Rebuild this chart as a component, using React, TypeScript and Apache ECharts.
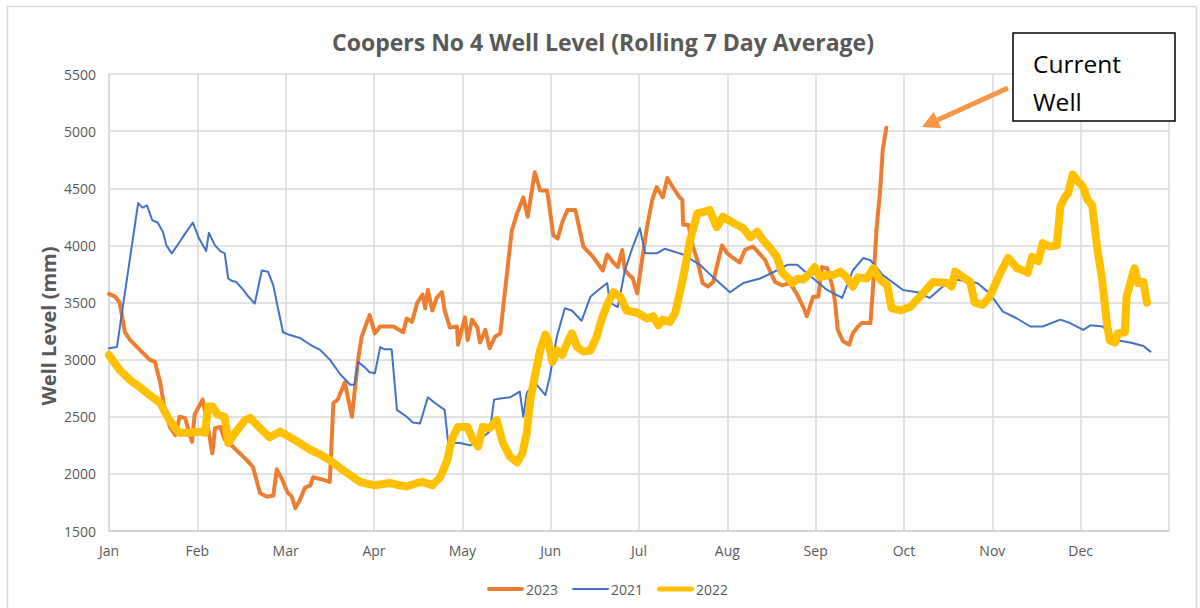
import React, { useEffect, useRef } from "react";
import * as echarts from "echarts";

// x values are positions in months from 1 Jan (0 = Jan, 1 = Feb, ...)
const monthLabels = ["Jan", "Feb", "Mar", "Apr", "May", "Jun", "Jul", "Aug", "Sep", "Oct", "Nov", "Dec"];
const yTicks = { min: 1500, max: 5500, step: 500 };

const data2023: [number, number][] = [
  [0, 3575], [0.07, 3550], [0.12, 3500], [0.18, 3240], [0.24, 3170], [0.35, 3085], [0.46, 3000], [0.52, 2980],
  [0.58, 2800], [0.63, 2560], [0.69, 2410], [0.75, 2340], [0.8, 2500], [0.86, 2490], [0.94, 2280], [0.97, 2520],
  [1.06, 2650], [1.1, 2500], [1.17, 2180], [1.2, 2400], [1.26, 2410], [1.31, 2300], [1.4, 2240], [1.56, 2120],
  [1.63, 2060], [1.71, 1830], [1.79, 1800], [1.86, 1810], [1.9, 2040], [1.96, 1950], [2.02, 1840], [2.07, 1800],
  [2.11, 1700], [2.16, 1770], [2.22, 1880], [2.28, 1900], [2.31, 1970], [2.42, 1950], [2.5, 1930], [2.54, 2620],
  [2.59, 2650], [2.67, 2800], [2.75, 2500], [2.82, 3000], [2.86, 3200], [2.95, 3390], [3.01, 3230], [3.07, 3290],
  [3.18, 3290], [3.22, 3290], [3.33, 3240], [3.37, 3360], [3.43, 3330], [3.49, 3500], [3.55, 3570], [3.58, 3450],
  [3.61, 3610], [3.66, 3430], [3.71, 3540], [3.77, 3590], [3.8, 3430], [3.86, 3280], [3.94, 3290], [3.95, 3130],
  [4.03, 3370], [4.06, 3170], [4.11, 3350], [4.17, 3280], [4.2, 3150], [4.26, 3260], [4.31, 3100], [4.37, 3200],
  [4.43, 3230], [4.48, 3580], [4.56, 4130], [4.62, 4280], [4.69, 4420], [4.74, 4250], [4.82, 4640], [4.88, 4480],
  [4.96, 4480], [5.03, 4090], [5.08, 4060], [5.13, 4200], [5.19, 4310], [5.28, 4310], [5.33, 4130], [5.37, 3990],
  [5.48, 3900], [5.59, 3780], [5.64, 3920], [5.71, 3850], [5.76, 3810], [5.81, 3960], [5.84, 3780], [5.93, 3710],
  [5.98, 3580], [6.03, 3850], [6.09, 4160], [6.15, 4400], [6.2, 4510], [6.27, 4420], [6.32, 4590], [6.39, 4500],
  [6.46, 4420], [6.49, 4400], [6.5, 4180], [6.56, 4180], [6.61, 3990], [6.66, 3870], [6.72, 3670], [6.78, 3640],
  [6.84, 3680], [6.88, 3810], [6.94, 4000], [7.0, 3930], [7.05, 3900], [7.14, 3850], [7.2, 3960], [7.29, 3990],
  [7.35, 3940], [7.43, 3870], [7.48, 3780], [7.54, 3680], [7.62, 3650], [7.71, 3670], [7.79, 3570], [7.86, 3460],
  [7.9, 3380], [7.97, 3550], [8.03, 3550], [8.07, 3810], [8.13, 3800], [8.19, 3640], [8.22, 3500], [8.25, 3260],
  [8.31, 3160], [8.38, 3130], [8.42, 3230], [8.48, 3290], [8.52, 3320], [8.62, 3320], [8.65, 3640], [8.69, 4150],
  [8.73, 4480], [8.76, 4840], [8.8, 5030],
];

const data2021: [number, number][] = [
  [0, 3100], [0.09, 3110], [0.16, 3480], [0.33, 4370], [0.38, 4330], [0.43, 4350], [0.49, 4220], [0.55, 4200],
  [0.61, 4120], [0.65, 4000], [0.71, 3930], [0.8, 4030], [0.85, 4090], [0.95, 4200], [1.02, 4060], [1.1, 3950],
  [1.13, 4110], [1.2, 4000], [1.26, 3950], [1.31, 3930], [1.35, 3710], [1.39, 3690], [1.44, 3680], [1.52, 3610],
  [1.58, 3550], [1.65, 3490], [1.73, 3780], [1.8, 3770], [1.86, 3650], [1.91, 3460], [1.97, 3240], [2.05, 3215],
  [2.16, 3190], [2.28, 3130], [2.39, 3085], [2.5, 3000], [2.62, 2870], [2.73, 2780], [2.78, 2780], [2.82, 2980],
  [2.9, 2930], [2.95, 2890], [3.01, 2880], [3.07, 3110], [3.12, 3090], [3.2, 3090], [3.26, 2560], [3.37, 2500],
  [3.44, 2450], [3.52, 2440], [3.61, 2670], [3.69, 2620], [3.8, 2560], [3.84, 2270], [3.97, 2270], [4.09, 2250],
  [4.2, 2300], [4.31, 2370], [4.36, 2650], [4.43, 2660], [4.54, 2670], [4.65, 2720], [4.69, 2500], [4.73, 2710],
  [4.82, 2800], [4.94, 2690], [4.99, 2850], [5.07, 3200], [5.16, 3450], [5.24, 3430], [5.35, 3340], [5.45, 3550],
  [5.54, 3610], [5.64, 3670], [5.67, 3500], [5.76, 3460], [5.84, 3780], [5.93, 3990], [6.01, 4150], [6.07, 3930],
  [6.2, 3930], [6.29, 3970], [6.46, 3930], [6.5, 3920], [6.69, 3830], [6.84, 3720], [7.03, 3590], [7.18, 3670],
  [7.37, 3710], [7.56, 3780], [7.68, 3830], [7.79, 3830], [8.02, 3680], [8.13, 3610], [8.3, 3540], [8.42, 3780],
  [8.54, 3890], [8.62, 3870], [8.76, 3740], [8.99, 3610], [9.15, 3590], [9.29, 3540], [9.44, 3640], [9.6, 3700],
  [9.83, 3670], [9.97, 3580], [10.12, 3420], [10.28, 3360], [10.43, 3290], [10.57, 3290], [10.77, 3350], [10.88, 3320],
  [11.03, 3260], [11.11, 3300], [11.25, 3290], [11.41, 3170], [11.56, 3150], [11.71, 3120], [11.79, 3070],
];

const data2022: [number, number][] = [
  [0, 3040], [0.12, 2910], [0.24, 2820], [0.35, 2760], [0.46, 2690], [0.58, 2620], [0.67, 2490], [0.75, 2400],
  [0.8, 2360], [0.92, 2360], [1.03, 2370], [1.09, 2360], [1.12, 2590], [1.17, 2590], [1.23, 2520], [1.31, 2500],
  [1.35, 2270], [1.43, 2360], [1.54, 2470], [1.6, 2490], [1.71, 2400], [1.82, 2320], [1.94, 2370], [2.05, 2320],
  [2.16, 2270], [2.28, 2210], [2.39, 2170], [2.5, 2120], [2.62, 2050], [2.73, 1990], [2.84, 1930], [3.01, 1900],
  [3.18, 1920], [3.29, 1900], [3.37, 1890], [3.49, 1920], [3.55, 1930], [3.66, 1900], [3.75, 1970], [3.83, 2120],
  [3.88, 2300], [3.95, 2410], [4.06, 2410], [4.12, 2300], [4.18, 2240], [4.23, 2410], [4.31, 2400], [4.39, 2470],
  [4.46, 2270], [4.54, 2150], [4.62, 2100], [4.68, 2180], [4.73, 2360], [4.77, 2650], [4.82, 2850], [4.88, 3080],
  [4.94, 3220], [4.97, 3170], [5.02, 2980], [5.07, 3080], [5.13, 3040], [5.19, 3150], [5.24, 3230], [5.3, 3110],
  [5.37, 3070], [5.45, 3080], [5.52, 3200], [5.58, 3360], [5.64, 3480], [5.71, 3590], [5.79, 3550], [5.86, 3430],
  [5.98, 3410], [6.09, 3360], [6.16, 3380], [6.22, 3300], [6.27, 3350], [6.35, 3330], [6.41, 3410], [6.46, 3580],
  [6.5, 3720], [6.58, 4050], [6.66, 4280], [6.72, 4290], [6.8, 4310], [6.88, 4160], [6.95, 4250], [7.06, 4200],
  [7.18, 4150], [7.26, 4070], [7.34, 4120], [7.4, 4050], [7.48, 3980], [7.56, 3900], [7.62, 3760], [7.68, 3720],
  [7.74, 3670], [7.8, 3710], [7.86, 3700], [7.94, 3760], [7.99, 3810], [8.05, 3720], [8.13, 3740], [8.2, 3740],
  [8.28, 3770], [8.35, 3720], [8.42, 3640], [8.48, 3720], [8.58, 3710], [8.65, 3800], [8.73, 3700], [8.81, 3650],
  [8.86, 3450], [8.96, 3430], [9.07, 3460], [9.18, 3550], [9.33, 3680], [9.49, 3670], [9.54, 3640], [9.58, 3770],
  [9.67, 3720], [9.75, 3680], [9.8, 3500], [9.89, 3480], [9.97, 3550], [10.09, 3760], [10.18, 3890], [10.28, 3800],
  [10.35, 3780], [10.4, 3760], [10.45, 3900], [10.52, 3860], [10.57, 4020], [10.65, 3990], [10.73, 4000], [10.77, 4340],
  [10.82, 4420], [10.86, 4460], [10.91, 4620], [10.97, 4560], [11.03, 4510], [11.07, 4410], [11.13, 4350], [11.19, 3960],
  [11.24, 3720], [11.3, 3300], [11.33, 3170], [11.39, 3150], [11.42, 3230], [11.5, 3240], [11.52, 3550], [11.58, 3720],
  [11.61, 3800], [11.65, 3670], [11.71, 3680], [11.75, 3500],
];

const seriesNames = ["2023", "2021", "2022"];
const seriesColors = ["#ED7D31", "#4472C4", "#FFC000"];
const seriesWidths = [4, 2, 8];
const legendThickness = [4, 2, 5];
const titleText = "Coopers No 4 Well Level (Rolling 7 Day Average)";
const yAxisName = "Well Level (mm)";
const noteLines = ["Current", "Well"];

const FONT = "'Open Sans', 'Noto Sans', sans-serif";

function barIcon(w: number, h: number) {
  const r = h / 2;
  return `path://M${r},0 L${w - r},0 A${r},${r} 0 0 1 ${w - r},${h} L${r},${h} A${r},${r} 0 0 1 ${r},0 Z`;
}

export default function App() {
  const ref = useRef<HTMLDivElement>(null);
  useEffect(() => {
    if (!ref.current) return;
    const chart = echarts.init(ref.current, undefined, { renderer: "svg" });
    const datasets = [data2023, data2021, data2022];

    // arrow geometry (annotation)
    const tail = [1008, 88];
    const tip = [922, 127];
    const dx = tip[0] - tail[0];
    const dy = tip[1] - tail[1];
    const len = Math.hypot(dx, dy);
    const ux = dx / len;
    const uy = dy / len;
    const headLen = 17;
    const headHalf = 9;
    const bx = tip[0] - ux * headLen;
    const by = tip[1] - uy * headLen;
    const px = -uy;
    const py = ux;

    chart.setOption({
      animation: false,
      backgroundColor: "#ffffff",
      textStyle: { fontFamily: FONT },
      title: {
        text: titleText,
        left: 598,
        textAlign: "center",
        top: 25,
        textStyle: { fontFamily: FONT, fontSize: 23, fontWeight: "bold", color: "#595959" },
      },
      legend: {
        data: seriesNames.map((name, i) => ({ name, icon: barIcon(37, legendThickness[i]) })),
        left: 482,
        top: 577,
        itemWidth: 37,
        itemHeight: 18,
        itemGap: 14,
        textStyle: { fontFamily: FONT, fontSize: 14, color: "#595959", padding: [0, 0, 0, -3] },
      },
      grid: { left: 109, right: 31, top: 74, bottom: 77, containLabel: false },
      xAxis: {
        type: "value",
        min: 0,
        max: 12,
        interval: 1,
        axisLine: { show: true, lineStyle: { color: "#d0d0d0", width: 1.5 } },
        axisTick: { show: false },
        splitLine: { show: true, lineStyle: { color: "#d9d9d9", width: 1.5 } },
        axisLabel: {
          formatter: (v: number) => monthLabels[Math.round(v)] ?? "",
          color: "#595959",
          fontSize: 14,
          fontFamily: FONT,
          margin: 12,
        },
      },
      yAxis: {
        type: "value",
        min: yTicks.min,
        max: yTicks.max,
        interval: yTicks.step,
        axisLine: { show: true, lineStyle: { color: "#d9d9d9", width: 1.5 } },
        axisTick: { show: false },
        splitLine: { show: true, lineStyle: { color: "#d9d9d9", width: 1.5 } },
        axisLabel: {
          formatter: (v: number) => String(v),
          color: "#595959",
          fontSize: 14,
          fontFamily: FONT,
          margin: 13,
        },
      },
      series: seriesNames.map((name, i) => ({
        name,
        type: "line",
        data: datasets[i],
        showSymbol: false,
        symbol: "none",
        smooth: false,
        color: seriesColors[i],
        lineStyle: { color: seriesColors[i], width: seriesWidths[i], join: "round", cap: "round" },
        z: 2 + i,
      })),
      graphic: [
        {
          type: "rect",
          shape: { x: 7.5, y: 6.5, width: 1189, height: 610 },
          style: { fill: "none", stroke: "#d9d9d9", lineWidth: 1.5 },
          silent: true,
          z: -10,
        },
        {
          type: "text",
          x: 48,
          y: 326,
          rotation: Math.PI / 2,
          style: {
            text: yAxisName,
            fill: "#595959",
            font: `bold 20px ${FONT}`,
            align: "center",
            verticalAlign: "middle",
          },
          z: 5,
        },
        {
          type: "line",
          shape: { x1: tail[0], y1: tail[1], x2: bx, y2: by },
          style: { stroke: "#F79646", lineWidth: 5 },
          z: 20,
        },
        {
          type: "polygon",
          shape: {
            points: [
              [tip[0], tip[1]],
              [bx + px * headHalf, by + py * headHalf],
              [bx - px * headHalf, by - py * headHalf],
            ],
          },
          style: { fill: "#F79646" },
          z: 20,
        },
        {
          type: "rect",
          shape: { x: 1013, y: 33, width: 162, height: 88 },
          style: { fill: "#ffffff", stroke: "#000000", lineWidth: 1.5 },
          z: 20,
        },
        {
          type: "text",
          x: 1033,
          y: 63,
          style: {
            text: noteLines[0],
            fill: "#000000",
            font: `24.5px ${FONT}`,
            verticalAlign: "middle",
          },
          z: 21,
        },
        {
          type: "text",
          x: 1033,
          y: 101,
          style: {
            text: noteLines[1],
            fill: "#000000",
            font: `24.5px ${FONT}`,
            verticalAlign: "middle",
          },
          z: 21,
        },
      ],
    });
    return () => chart.dispose();
  }, []);
  return (
    <div
      ref={ref}
      style={{ position: "absolute", left: 0, top: 0, width: 1200, height: 608, background: "#fff" }}
    />
  );
}
